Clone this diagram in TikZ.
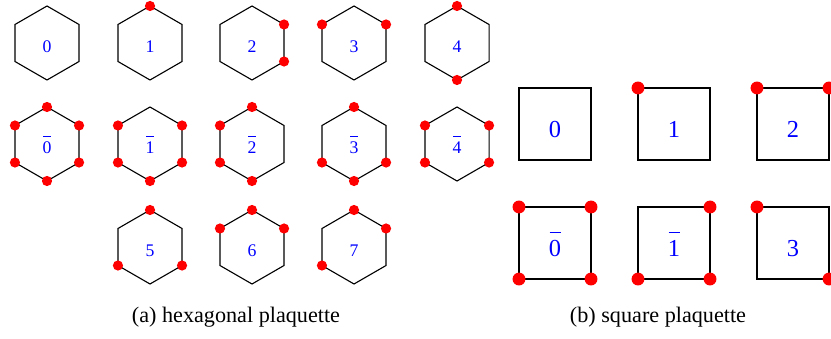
\documentclass[tikz,border=0pt]{standalone}
\usepackage{fontspec}
\setmainfont{Liberation Serif}

% overlined plaquette label
\newcommand{\bd}[1]{\hbox{\ooalign{#1\cr\hidewidth\rule[0.95em]{0.45em}{0.045em}\hidewidth\cr}}}

\tikzset{
    plaq/.style={line width=0.5pt},
    hexlab/.style={text=blue, anchor=base, font=\fontsize{8}{9}\selectfont},
    sqlab/.style={text=blue, anchor=base, font=\fontsize{11}{13}\selectfont},
    sqbox/.style={draw, plaq, minimum size=32.5pt, inner sep=0pt, outer sep=0pt},
    hexspin/.style={fill=red},
    sqspin/.style={fill=red},
}

\begin{document}
\begin{tikzpicture}[x=0.451pt, y=0.451pt]
    \useasboundingbox (0,0) rectangle (831,338);

    % hexagonal plaquettes
    \foreach \cx/\cy/\nm/\lab in {47/295/h0/0, 150/295/h1/1, 252/295/h2/2, 354/295/h3/3, 457/295/h4/4,
        47/194/hb0/{\bd{0}}, 150/194/hb1/{\bd{1}}, 252/194/hb2/{\bd{2}}, 354/194/hb3/{\bd{3}}, 457/194/hb4/{\bd{4}},
        150/91/h5/5, 252/91/h6/6, 354/91/h7/7} {
        \coordinate (\nm) at (\cx,\cy);
        \draw[plaq] (\nm) +(90:37) -- +(30:37) -- +(-30:37) -- +(-90:37) -- +(-150:37) -- +(150:37) -- cycle;
        \node[hexlab] (\nm-lab) at ([yshift=-4.3pt]\nm) {\lab};
    }

    % occupied vertices (red)
    \foreach \nm/\alist in {h1/{90}, h2/{30,-30}, h3/{150,30}, h4/{90,-90},
        hb0/{90,30,-30,-90,-150,150}, hb1/{30,-30,-90,-150,150}, hb2/{90,150,-150,-90},
        hb3/{90,-150,-30,-90}, hb4/{150,30,-150,-30},
        h5/{90,-150,-30}, h6/{90,150,30}, h7/{90,30,-150}} {
        \foreach \a in \alist {
            \fill[hexspin] (\nm) ++(\a:37) circle (2.3pt);
        }
    }

    % square plaquettes
    \foreach \cx/\cy/\nm/\lab in {555/214/s0/0, 674/214/s1/1, 793/214/s2/2,
        555/95/sb0/{\bd{0}}, 674/95/sb1/{\bd{1}}, 793/95/s3/3} {
        \node[sqbox] (\nm) at (\cx,\cy) {};
        \node[sqlab] (\nm-lab) at ([yshift=-5.9pt]\nm.center) {\lab};
    }

    % occupied corners (red)
    \foreach \nm/\clist in {s1/{north west}, s2/{north west,north east},
        sb0/{north west,north east,south west,south east},
        sb1/{north east,south west,south east}, s3/{north west,south east}} {
        \foreach \c in \clist {
            \fill[sqspin] (\nm.\c) circle (2.9pt);
        }
    }

    \node[anchor=base] (capa) at (236,16) {(a) hexagonal plaquette};
    \node[anchor=base] (capb) at (658,16) {(b) square plaquette};
\end{tikzpicture}
\end{document}
